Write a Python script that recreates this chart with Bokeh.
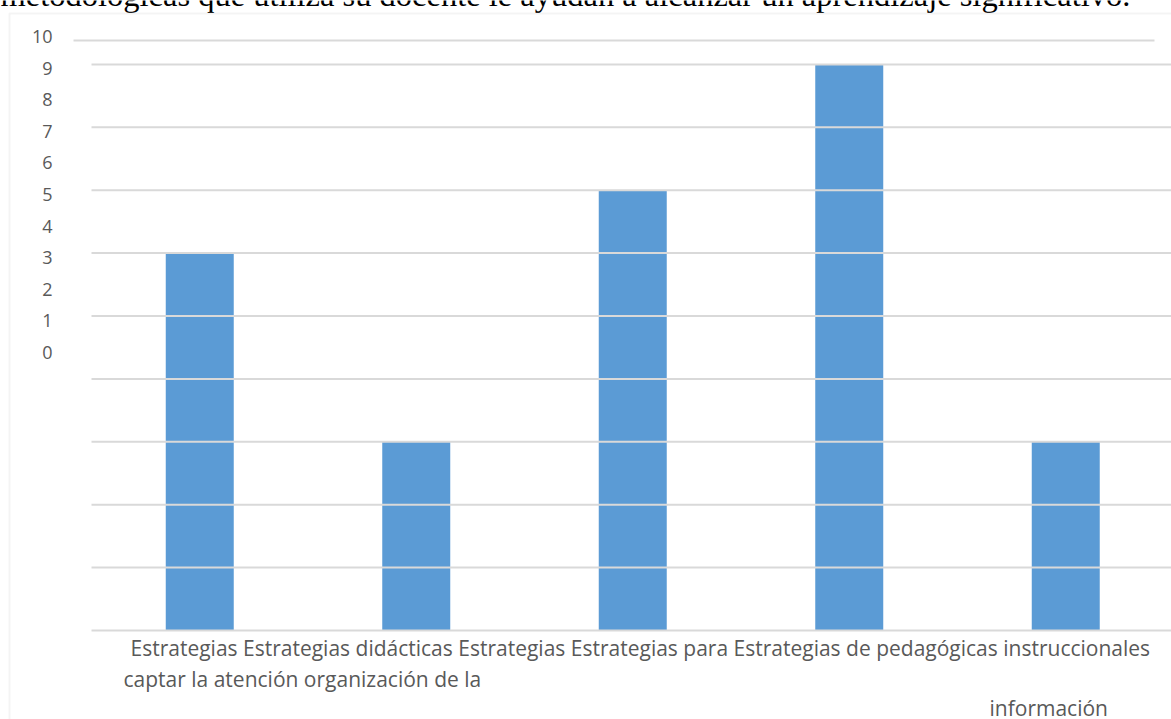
from bokeh.plotting import figure
from bokeh.models import Range1d, BoxAnnotation, ColumnDataSource
from bokeh.core.properties import value
from bokeh.embed import file_html
from bokeh.resources import INLINE

# ---------------- data ----------------
categories = ["Estrategias para captar la atención",
              "Estrategias didácticas",
              "Estrategias de organización de la información",
              "Estrategias pedagógicas",
              "Estrategias instruccionales"]
values = [6, 3, 7, 9, 3]
grid_ticks = [0, 1, 2, 3, 4, 5, 6, 7, 8, 9]
y_tick_labels = [0, 1, 2, 3, 4, 5, 6, 7, 8, 9, 10]
title_text = ("metodológicas que utiliza su docente le ayudan a alcanzar "
              "un aprendizaje significativo.")
x_label_lines = [
    "Estrategias Estrategias didácticas Estrategias Estrategias para "
    "Estrategias de pedagógicas instruccionales",
    "captar la atención organización de la",
    "información",
]

# ---------------- layout (pixels) ----------------
W, H = 1171, 719
FL, FR, FB = 91, 1171, 630          # plot area left/right, baseline
PXX = 216.5                          # px per category
PXY = 62.9                           # px per value unit
LBL0, LBLPX = 352.0, 31.6            # tick-label "0" position, px per label unit

def dx(sx):
    return -0.5 + (sx - FL) / PXX

def dy(sy):
    return (FB - sy) / PXY

GRID = "#d9d9d9"
TXT = "#595959"
FONT = "Open Sans"

p = figure(width=W, height=H, output_backend="svg", toolbar_location=None,
           x_range=Range1d(dx(0), dx(W)), y_range=Range1d(dy(H), dy(0)),
           x_axis_location=None, y_axis_location=None,
           min_border_left=0, min_border_right=0,
           min_border_top=0, min_border_bottom=0,
           outline_line_color=None, background_fill_color="white",
           border_fill_color="white")
p.center = []   # no default grids

p.extra_y_ranges = {"lbl": Range1d((LBL0 - H) / LBLPX, LBL0 / LBLPX)}

# outer border & top rule
p.add_layout(BoxAnnotation(left=dx(9), right=dx(1300), top=dy(13), bottom=dy(900),
                           fill_color=None, line_color=GRID, line_width=2))
p.add_layout(BoxAnnotation(left=dx(73), right=dx(1154), top=dy(39), bottom=dy(41),
                           fill_color=GRID, fill_alpha=1, line_color=None))

# bars
src = ColumnDataSource(dict(x=list(range(len(values))), top=values, cat=categories))
p.vbar(x="x", top="top", bottom=0, width=68 / PXX, source=src,
       fill_color="#5b9bd5", line_color=None)

# gridlines (drawn over the bars)
p.segment(x0=dx(FL), x1=dx(FR), y0=grid_ticks, y1=grid_ticks,
          line_color=GRID, line_width=2)

# y tick labels on their own scale
p.text(x=dx(52), y=y_tick_labels, text=[str(v) for v in y_tick_labels],
       y_range_name="lbl", text_align="right", text_baseline="middle",
       text_font=value(FONT), text_font_size="18px", text_color=TXT)

# title (cut off at the top)
p.text(x=[dx(0)], y=[dy(-6)], text=[title_text], text_font=value("Liberation Serif"),
       text_font_size="32.5px", text_color="black", text_baseline="alphabetic",
       text_align="left")

# x labels
p.text(x=[dx(130), dx(123), dx(989)], y=[dy(647), dy(678), dy(707)],
       text=x_label_lines, text_font=value(FONT), text_font_size="21px",
       text_color=TXT, text_baseline="alphabetic", text_align="left")

open("out.html", "w").write(file_html(p, INLINE))
